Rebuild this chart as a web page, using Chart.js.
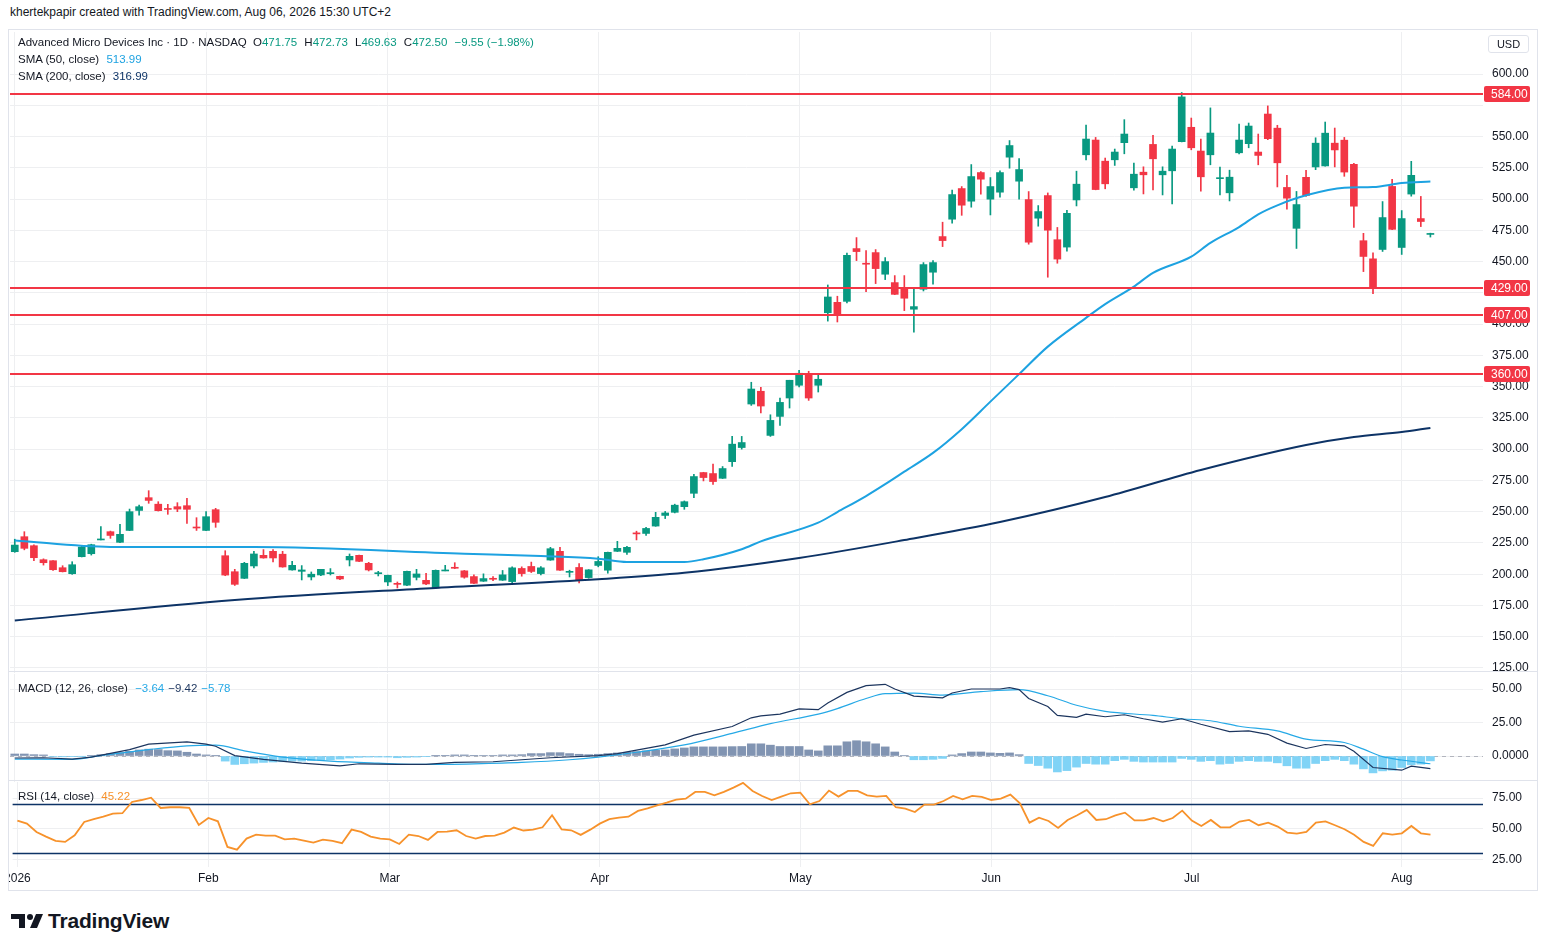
<!DOCTYPE html>
<html>
<head>
<meta charset="utf-8">
<script src="https://cdn.jsdelivr.net/npm/chart.js@4.4.1/dist/chart.umd.min.js"></script>
<style>
  body { margin: 0; background: #fff; font-family: 'Liberation Sans', Arial, sans-serif; color: #131722; }
  #page { position: relative; width: 1547px; height: 951px; overflow: hidden; background: #fff; }
  #credit { position: absolute; left: 10px; top: 5px; font-size: 12px; white-space: nowrap; }
  #frame { position: absolute; left: 8px; top: 29px; width: 1530px; height: 862px; box-sizing: border-box;
           border: 1px solid #e0e3eb; overflow: hidden; }
  #frame canvas { position: absolute; left: -9px; }
  .leg { position: absolute; left: 9px; font-size: 11.5px; line-height: 14px; white-space: nowrap; z-index: 5; }
  .leg b { font-weight: normal; margin-left: 4px; }
  .sep { position: absolute; left: 0; width: 100%; height: 1px; background: #e0e3eb; z-index: 4; }
  #usd { position: absolute; left: 1479px; top: 5px; width: 41px; height: 18px; box-sizing: border-box;
         border: 1px solid #e0e3eb; border-radius: 3px; font-size: 11px; line-height: 16px; text-align: center; z-index: 5; }
  #brand { position: absolute; left: 11px; top: 909px; display: flex; align-items: center; }
  #brand span { font-weight: bold; font-size: 21px; margin-left: 3px; letter-spacing: -0.2px; }
</style>
</head>
<body>
<div id="page">
  <div id="credit">khertekpapir created with TradingView.com, Aug 06, 2026 15:30 UTC+2</div>
  <div id="frame">
    <canvas id="mainChart" width="1537" height="681" style="top:-18px"></canvas>
    <canvas id="macdChart" width="1537" height="148" style="top:624px"></canvas>
    <canvas id="rsiChart" width="1537" height="147" style="top:732px"></canvas>
    <div class="sep" style="top:641px"></div>
    <div class="sep" style="top:750px"></div>
    <div class="leg" style="top:5px">Advanced Micro Devices Inc · 1D · NASDAQ
      <b style="margin-left:3px">O<span class="up" id="vO"></span></b>
      <b>H<span class="up" id="vH"></span></b>
      <b>L<span class="up" id="vL"></span></b>
      <b>C<span class="up" id="vC"></span></b>
      <b class="up" id="vChg"></b></div>
    <div class="leg" style="top:22px">SMA (50, close) <b id="vSma50" style="color:#1da2e1"></b></div>
    <div class="leg" style="top:39px">SMA (200, close) <b id="vSma200" style="color:#0d3366"></b></div>
    <div class="leg" style="top:651px">MACD (12, 26, close) <b id="vHist" style="color:#26a9e6"></b><b id="vMacd" style="color:#1c355e"></b><b id="vSig" style="color:#26a9e6"></b></div>
    <div class="leg" style="top:759px">RSI (14, close) <b id="vRsi" style="color:#f7922b"></b></div>
    <div id="usd">USD</div>
  </div>
  <div id="brand">
    <svg width="34" height="20" viewBox="0 0 34 20"><path d="M0 3h14v14H8V8H0z" fill="#131722"/><circle cx="19" cy="6" r="3" fill="#131722"/><path d="M25 3h7l-6 14h-7z" fill="#131722"/></svg>
    <span>TradingView</span>
  </div>
</div>
<script>
// trading days (day of month) per month, 2026
var janDays = [2, 5, 6, 7, 8, 9, 12, 13, 14, 15, 16, 20, 21, 22, 23, 26, 27, 28, 29, 30];
var febDays = [2, 3, 4, 5, 6, 9, 10, 11, 12, 13, 17, 18, 19, 20, 23, 24, 25, 26, 27];
var marDays = [2, 3, 4, 5, 6, 9, 10, 11, 12, 13, 16, 17, 18, 19, 20, 23, 24, 25, 26, 27, 30, 31];
var aprDays = [1, 2, 6, 7, 8, 9, 10, 13, 14, 15, 16, 17, 20, 21, 22, 23, 24, 27, 28, 29, 30];
var mayDays = [1, 4, 5, 6, 7, 8, 11, 12, 13, 14, 15, 18, 19, 20, 21, 22, 26, 27, 28, 29];
var junDays = [1, 2, 3, 4, 5, 8, 9, 10, 11, 12, 15, 16, 17, 18, 22, 23, 24, 25, 26, 29, 30];
var julDays = [1, 2, 6, 7, 8, 9, 10, 13, 14, 15, 16, 17, 20, 21, 22, 23, 24, 27, 28, 29, 30, 31];
var augDays = [3, 4, 5, 6, 7, 10, 11, 12, 13]; // last five are empty future slots
var monthTicks = ['2026', 'Feb', 'Mar', 'Apr', 'May', 'Jun', 'Jul', 'Aug'];

// daily candles
var openPrices = [218, 230, 222.8, 211.6, 210.8, 205.2, 200.4, 214, 216.4, 227.6,
  234, 225.5, 235, 251, 261.2, 256, 252.4, 254, 254.8, 237.5,
  235, 251.6, 214.8, 202, 196.7, 206.6, 215.1, 218.3, 216, 203.4,
  202.3, 197.8, 199.4, 200.7, 198.3, 211.4, 215.1, 208.7, 200.6, 193.8,
  192.4, 191.2, 197.5, 195.1, 189, 202.9, 205.3, 202.7, 198.1, 194.4,
  196.5, 195.2, 194.1, 204.6, 206.2, 200.5, 211.3, 218.3, 201.8, 205.4,
  197.3, 207, 203.2, 218.3, 217.5, 232.8, 232.6, 238.5, 247, 249.5,
  254, 264.7, 281.3, 280.5, 276.7, 290, 301.3, 336.1, 346.3, 311,
  326.2, 340.9, 351.1, 359.6, 351.1, 409.1, 417.4, 418.2, 460.4, 448.4,
  457.2, 439.9, 433.2, 429.2, 411.9, 427.9, 441.5, 470, 483.9, 508.4,
  498.3, 521.2, 499.9, 505.5, 533.5, 514.3, 499.6, 484.7, 502.8, 467.5,
  461.6, 499.3, 535.4, 547.2, 530.3, 531.4, 545.1, 509, 521.5, 543.7,
  519.4, 522.6, 545.9, 557.4, 538.4, 535.4, 516.5, 505, 537, 544.3,
  537.6, 568, 556.7, 509.3, 476.6, 517.4, 525.7, 526.5, 544.7, 547.1,
  527.8, 466.7, 452.2, 459.7, 510.1, 461.3, 504, 484.4, 471.75];
var highPrices = [228, 234, 223.5, 212.3, 211, 206.8, 210, 222.8, 224, 238,
  234.5, 239.9, 252.1, 255.3, 266.8, 258, 255.9, 257.2, 260.7, 245.2,
  250, 252.7, 218.8, 203.9, 209.5, 218.3, 219.7, 219.7, 218.3, 210.3,
  206.9, 201.8, 204, 204.5, 198.6, 216.2, 215.3, 209.5, 202.3, 199.3,
  193.8, 202.5, 203.9, 200.7, 203.4, 207.1, 209.2, 203, 199.5, 200.3,
  198.1, 203, 205.9, 205.9, 209.7, 206.2, 221.5, 221.5, 203.2, 208.6,
  203.7, 214, 217.7, 226.3, 222.3, 234.4, 237.4, 249.5, 250.2, 256,
  258.6, 279.9, 281.5, 288, 286.1, 310.2, 310.2, 353.5, 349.5, 327.5,
  340.9, 355.1, 363.1, 362.3, 359.1, 431.3, 422.3, 456.8, 469.2, 458.8,
  459.6, 453.2, 438.8, 438.8, 428.7, 449.2, 450.8, 481.5, 507.1, 510,
  527.6, 522, 517.2, 522.5, 546.8, 532.4, 506, 494.8, 504.9, 477.3,
  491, 522.3, 559.2, 549.3, 532.8, 540, 563.5, 528.7, 525.8, 551,
  525.8, 542.4, 585.2, 564.8, 548, 572.9, 525.5, 523.1, 560, 560.8,
  552, 574.5, 559, 519, 506.1, 523, 549, 561.6, 556.8, 549.3,
  528.6, 472.6, 457, 498, 515.8, 490.8, 530.2, 502.1, 472.73];
var lowPrices = [217.5, 219.5, 210.8, 207.3, 203, 201.8, 199.9, 213.8, 215.3, 227.4,
  228.7, 225.3, 234.8, 247.3, 256.7, 250.5, 247.9, 250, 240.7, 235,
  234.8, 237.5, 198.8, 191, 196.5, 205, 212.8, 209.8, 205.6, 203.2,
  195.4, 195.4, 198.9, 199.4, 195.7, 206.6, 210, 202.6, 198.6, 190.9,
  189, 190.9, 195.4, 191.7, 188.7, 202.7, 204.4, 196.8, 192.5, 194.2,
  194.9, 195, 192.7, 198.4, 201.3, 199.5, 211.1, 203, 197.8, 193,
  196.8, 205.9, 200.8, 218.1, 215.9, 227.4, 231, 238.3, 244.5, 249,
  251.9, 261.2, 274.6, 271.9, 276.5, 286.1, 300, 335, 328.9, 310.2,
  319, 332.9, 349.7, 339, 345.7, 402.4, 401.7, 417, 450.8, 426,
  432.4, 435.6, 423.6, 410.8, 393.5, 426.5, 431.9, 462, 480.7, 487,
  493.5, 503.9, 487.3, 501.5, 524.7, 499.9, 463.9, 478.3, 437.5, 448.7,
  458.4, 494.5, 531.4, 507.4, 508.2, 526.9, 536.2, 507.1, 504.1, 507.4,
  503.3, 496.1, 545.7, 539.4, 506.3, 527.4, 503.3, 498.5, 536.2, 541,
  527.4, 547.5, 509.7, 491.9, 460.5, 502.1, 523.5, 526.3, 525.7, 518.2,
  477.4, 442, 424.3, 458.1, 475.6, 455.7, 502.3, 478, 469.63];
var closePrices = [223.3, 220.7, 213.2, 209.2, 203.6, 202, 207.6, 221.7, 223.6, 228,
  231, 231.9, 250, 254, 259, 250.8, 252, 252.1, 251.9, 237.2,
  246, 241.5, 199.3, 191.9, 208.7, 216.2, 213, 213, 205.8, 207.1,
  203.4, 200, 203.9, 201, 196.2, 214.3, 210.3, 203.4, 201, 199.1,
  192.2, 202.3, 200.2, 192.2, 203.1, 203.1, 205, 197.6, 192.7, 196.5,
  196.2, 199.5, 205.1, 200.5, 202.2, 205.1, 220.4, 203.2, 202, 195.4,
  203.5, 210.2, 217.5, 220.7, 221.5, 232.5, 236.6, 245.5, 249, 255.2,
  258, 278.1, 277.3, 274.1, 284.5, 304, 305.3, 348.1, 334.5, 323,
  337.4, 355.1, 360.7, 340.9, 355.9, 421.7, 407.5, 455, 458, 448.2,
  444.4, 450, 423.8, 420.7, 414, 447.6, 449.2, 466.8, 503.6, 495.1,
  518, 515.9, 510, 521.2, 542.8, 523.6, 465.5, 490, 475.1, 452,
  488.6, 511.9, 548, 507.6, 512.2, 537.6, 552, 519.9, 519.4, 532.2,
  522.3, 540, 581.7, 541, 517.8, 552.8, 516.9, 517.5, 547.2, 558.4,
  534.9, 548.3, 529, 500.7, 495.6, 502.9, 544.7, 552.7, 539.3, 521.6,
  494.3, 454.1, 429.2, 485.2, 475.8, 484.4, 519, 482.05, 472.5];

// moving averages, read at sampled bars (bar index, value)
var sma50At = [0, 10, 25, 47, 55, 61, 64, 70, 72, 76, 78, 84, 86, 89, 91, 93, 96, 99, 102, 105, 108, 112, 114, 117, 119, 123, 125, 128, 130, 132, 135, 139, 142, 145, 148];
var sma50Val = [227, 221.8, 221.8, 216.4, 214.5, 212.4, 209.8, 209.8, 212, 220, 226.3, 241.2, 249.7, 262.5, 272, 282, 297, 316, 338, 360, 382, 405, 416, 430, 441, 454, 465, 477.6, 487.8, 495, 503, 509.1, 509.6, 512.8, 513.99];
var sma200At = [0, 23, 44, 61, 70, 82, 93, 103, 114, 124, 135, 140, 145, 148];
var sma200Val = [163, 179.4, 189, 196, 201.2, 213, 227.3, 241.7, 261.7, 283.3, 303.3, 309.7, 313.7, 316.99];

// horizontal levels
var levels = [584, 429, 407, 360];
var priceTicks = [125, 150, 175, 200, 225, 250, 275, 300, 325, 350, 375, 400, 425, 450, 475, 500, 525, 550, 575, 600];
var hiddenPriceTicks = [575, 425];

// MACD
var macdHist = [1.5, 1.5, 1.0, 0.8, -0.3, -0.6, -0.5, -0.2, 0.5, 1.0,
  1.8, 2.5, 3.5, 4.5, 5.1, 4.8, 4.0, 3.8, 2.8, 1.5,
  0.8, 0.2, -3.8, -6.3, -5.8, -5.3, -4.8, -4.5, -4.3, -3.8,
  -3.8, -3.5, -3.0, -2.8, -2.3, -1.5, -1.0, -0.8, -0.8, -0.8,
  -1.3, -1.0, -0.8, -0.5, 0.1, 0.5, 0.8, 0.8, 0.5, 0.3,
  0.3, 0.8, 0.8, 1.0, 1.8, 1.8, 2.5, 2.5, 1.8, 1.3,
  1.0, 1.3, 1.8, 2.3, 2.8, 3.3, 3.8, 4.3, 4.5, 5.3,
  6.0, 6.8, 6.8, 6.8, 6.8, 7.0, 7.1, 9.1, 9.1, 8.1,
  7.1, 7.1, 7.1, 4.5, 3.8, 7.6, 7.6, 10.6, 11.4, 10.6,
  9.1, 6.8, 3.0, 0.3, -2.8, -2.8, -2.5, -1.8, 0.8, 1.8,
  3.0, 3.0, 2.3, 2.0, 2.3, 1.0, -5.6, -7.1, -9.1, -11.9,
  -10.9, -8.3, -5.6, -6.1, -6.1, -3.5, -2.5, -4.0, -4.5, -4.5,
  -4.5, -4.5, -1.8, -2.5, -4.0, -3.5, -6.1, -5.6, -4.0, -3.5,
  -4.0, -4.0, -5.1, -7.3, -9.1, -9.1, -5.6, -3.5, -2.5, -3.5,
  -6.1, -9.6, -12.6, -11.1, -10.6, -8.6, -6.6, -6.1, -3.64];
var macdAt = [0, 3, 6, 8, 12, 14, 18, 20, 21, 23, 26, 30, 34, 36, 40, 43, 46, 50, 53, 56,
  61, 63, 68, 71, 75, 77, 78, 80, 82, 84, 85, 87, 89, 91, 92, 94, 97, 98, 100, 103,
  104, 105, 106, 108, 109, 111, 112, 114, 116, 118, 120, 122, 124, 127, 129, 131, 133, 135, 137, 139,
  140, 142, 145, 146, 148];
var macdVal = [-1.5, -1.3, -2.3, -0.8, 4.8, 8.8, 10.6, 8.8, 7.3, 0.3, -2.5, -5.3, -7.3, -5.8, -6.3, -6.3, -4.8, -4.3, -2.8, -1.3,
  0.3, 1.8, 8.3, 15.6, 22.0, 28.5, 30, 31.3, 35.1, 34.6, 39.5, 47.5, 52.5, 53.5, 50, 44.7, 43.4, 47, 50, 50,
  51, 49.5, 42.9, 36.9, 30.3, 28.8, 31.3, 29.3, 30.8, 27.8, 25.3, 27.8, 23.7, 18.2, 18.7, 16.2, 9.6, 5.6, 8.6, 7.6,
  3.5, -8.6, -10.6, -7.6, -9.42];
var signalAt = [0, 6, 9, 14, 18, 21, 24, 28, 33, 38, 43, 48, 53, 58, 61, 65, 70, 75, 79, 84,
  86, 89, 91, 94, 97, 101, 105, 108, 111, 114, 119, 122, 125, 128, 132, 135, 139, 141, 143, 145, 148];
var signalVal = [-2.3, -2.5, 0.3, 4.8, 7.6, 8.1, 3.8, -0.8, -3.8, -5.3, -6.3, -5.8, -4.8, -2.8, -0.8, 2.8, 8.3, 16.9, 24.2, 31.3,
  35.4, 42.9, 46.5, 47, 45.5, 48, 49.5, 45, 37.9, 33.3, 30.3, 27.8, 26.3, 22.2, 18.7, 12.6, 10.1, 5.1, -0.5, -3, -5.78];
var macdTicks = [0, 25, 50];

// RSI
var rsiVal = [56.7, 54.2, 47.4, 43.6, 40.1, 39.3, 44.7, 55.6, 57.8, 59.9,
  62.4, 62.7, 71.9, 73.5, 75.4, 67, 67.6, 67.6, 67, 53.1,
  58.8, 56.1, 35.2, 33, 42, 45.2, 44.4, 44.4, 41.4, 42,
  40.3, 38.7, 41.2, 40.1, 38.2, 49.3, 47.4, 43.6, 42, 41.4,
  37.6, 45.2, 44.1, 40.9, 47.4, 47.7, 48.8, 44.1, 42, 44.1,
  44.4, 46.9, 51, 48.6, 49.3, 51.2, 61, 49.6, 48.8, 45,
  49.3, 54.2, 57.8, 59.1, 59.9, 64.6, 66.7, 69.2, 71.4, 73.8,
  74.6, 80.1, 80.1, 77.3, 80.1, 83.6, 87.5, 80.9, 76.8, 73.5,
  76.3, 79, 79.5, 70, 72.7, 81.2, 76.3, 80.9, 80.9, 77.3,
  76.3, 76.8, 67.6, 66.5, 63.7, 69.7, 69.7, 72.7, 76.8, 74.1,
  76.8, 76, 73.5, 74.6, 77.9, 70.8, 55, 59.1, 56.4, 50.7,
  57.2, 61, 65.4, 57.2, 57.8, 61, 63.2, 56.9, 56.9, 58.8,
  56.1, 58.8, 64.8, 56.7, 52.3, 57.2, 51.2, 51.2, 55.9, 57.2,
  52.9, 55, 51.8, 46.9, 46.1, 47.4, 55, 56.1, 52.9, 49.6,
  45.2, 39.3, 36, 46.3, 45.2, 46.3, 52.3, 46.3, 45.22];
var rsiBands = [70, 30];
var rsiTicks = [25, 50, 75];

var UP = '#089981', DOWN = '#f23645', GRID = '#eeeff1';
var FONT = "'Liberation Sans', Arial, sans-serif";
Chart.defaults.font.family = FONT;
Chart.defaults.font.size = 12;
Chart.defaults.color = '#131722';

// category labels
var monthDays = [janDays, febDays, marDays, aprDays, mayDays, junDays, julDays, augDays];
var labels = [], monthStart = [];
monthDays.forEach(function (days, m) {
  days.forEach(function (d, k) {
    labels.push('2026-' + String(m + 1).padStart(2, '0') + '-' + String(d).padStart(2, '0'));
    monthStart.push(k === 0 ? monthTicks[m] : '');
  });
});
var nBars = closePrices.length;

function sparse(at, vals) {
  var a = new Array(nBars).fill(null);
  at.forEach(function (j, k) { a[j] = vals[k]; });
  return a;
}

var wicks = lowPrices.map(function (l, i) { return [l, highPrices[i]]; });
var bodies = openPrices.map(function (o, i) {
  var lo = Math.min(o, closePrices[i]), hi = Math.max(o, closePrices[i]);
  if (hi - lo < 0.8) { var m = (hi + lo) / 2; lo = m - 0.4; hi = m + 0.4; }
  return [lo, hi];
});
var candleColors = closePrices.map(function (c, i) { return c >= openPrices[i] ? UP : DOWN; });

function xScale(showTicks) {
  return {
    type: 'category',
    offset: true,
    border: { display: false },
    grid: { offset: false, drawTicks: false, color: function (c) { return monthStart[c.index] ? GRID : 'rgba(0,0,0,0)'; } },
    ticks: showTicks
      ? { autoSkip: false, maxRotation: 0, padding: 4, callback: function (v, i) { return monthStart[i]; } }
      : { display: false },
    afterFit: function (s) { s.height = showTicks ? 22 : 0; }
  };
}
function yScale(min, max, tickList, fmt) {
  return {
    position: 'right', min: min, max: max,
    border: { display: false },
    grid: { color: GRID, drawTicks: false },
    afterBuildTicks: function (s) { s.ticks = tickList.map(function (v) { return { value: v }; }); },
    afterFit: function (s) { s.width = 54; },
    ticks: { padding: 9, callback: fmt }
  };
}
var baseOpts = {
  responsive: false, animation: false, events: [],
  layout: { padding: { left: 10, right: 0, top: 20, bottom: 20 } },
  plugins: { legend: { display: false }, tooltip: { enabled: false } }
};

// red support / resistance lines with axis tags
var levelPlugin = {
  id: 'levels',
  afterDatasetsDraw: function (chart) {
    var ctx = chart.ctx, a = chart.chartArea, y = chart.scales.y;
    ctx.save();
    ctx.strokeStyle = DOWN; ctx.lineWidth = 2;
    levels.forEach(function (v) {
      var py = Math.round(y.getPixelForValue(v));
      ctx.beginPath(); ctx.moveTo(a.left, py); ctx.lineTo(a.right, py); ctx.stroke();
    });
    ctx.restore();
  },
  afterDraw: function (chart) {
    var ctx = chart.ctx, a = chart.chartArea, y = chart.scales.y;
    ctx.save();
    levels.forEach(function (v) {
      var py = Math.round(y.getPixelForValue(v));
      ctx.fillStyle = DOWN;
      ctx.beginPath(); ctx.roundRect(a.right + 1, py - 8, 46, 16, 2); ctx.fill();
      ctx.fillStyle = '#fff'; ctx.font = '12px ' + FONT; ctx.textBaseline = 'middle';
      ctx.fillText(v.toFixed(2), a.right + 8, py + 1);
    });
    ctx.restore();
  }
};

new Chart(document.getElementById('mainChart'), {
  type: 'bar',
  data: {
    labels: labels,
    datasets: [
      { type: 'line', data: sparse(sma50At, sma50Val), borderColor: '#1da2e1', borderWidth: 2, pointRadius: 0,
        spanGaps: true, cubicInterpolationMode: 'monotone', order: 1 },
      { type: 'line', data: sparse(sma200At, sma200Val), borderColor: '#0d3366', borderWidth: 2, pointRadius: 0,
        spanGaps: true, cubicInterpolationMode: 'monotone', order: 2 },
      { data: bodies, backgroundColor: candleColors, barThickness: 7, grouped: false, order: 3 },
      { data: wicks, backgroundColor: candleColors, barThickness: 1, grouped: false, order: 4 }
    ]
  },
  options: Object.assign({}, baseOpts, {
    scales: {
      x: xScale(false),
      y: yScale(121.0, 633.6, priceTicks, function (v) { return hiddenPriceTicks.indexOf(v) >= 0 ? '' : v.toFixed(2); })
    }
  }),
  plugins: [levelPlugin]
});

// dashed zero line of MACD
var zeroPlugin = {
  id: 'zero',
  beforeDatasetsDraw: function (chart) {
    var ctx = chart.ctx, a = chart.chartArea, py = Math.round(chart.scales.y.getPixelForValue(0)) + 0.5;
    ctx.save(); ctx.strokeStyle = '#b2b5be'; ctx.lineWidth = 1; ctx.setLineDash([4, 4]);
    ctx.beginPath(); ctx.moveTo(a.left, py); ctx.lineTo(a.right, py); ctx.stroke(); ctx.restore();
  }
};

new Chart(document.getElementById('macdChart'), {
  type: 'bar',
  data: {
    labels: labels,
    datasets: [
      { type: 'line', data: sparse(macdAt, macdVal), borderColor: '#1c355e', borderWidth: 1.2, pointRadius: 0, spanGaps: true, order: 1 },
      { type: 'line', data: sparse(signalAt, signalVal), borderColor: '#26a9e6', borderWidth: 1.2, pointRadius: 0, spanGaps: true,
        cubicInterpolationMode: 'monotone', order: 2 },
      { data: macdHist, backgroundColor: macdHist.map(function (v) { return v >= 0 ? '#8194b2' : '#80d3f6'; }), barThickness: 8, order: 3 }
    ]
  },
  options: Object.assign({}, baseOpts, {
    scales: {
      x: xScale(false),
      y: yScale(-19.4, 61.2, macdTicks, function (v) { return v === 0 ? '0.0000' : v.toFixed(2); })
    }
  }),
  plugins: [zeroPlugin]
});

// RSI band lines
var bandPlugin = {
  id: 'bands',
  beforeDatasetsDraw: function (chart) {
    var ctx = chart.ctx, a = chart.chartArea, y = chart.scales.y;
    ctx.save(); ctx.strokeStyle = '#0d3366'; ctx.lineWidth = 1.3;
    rsiBands.forEach(function (v) {
      var py = Math.round(y.getPixelForValue(v)) + 0.5;
      ctx.beginPath(); ctx.moveTo(a.left, py); ctx.lineTo(a.right, py); ctx.stroke();
    });
    ctx.restore();
  }
};

new Chart(document.getElementById('rsiChart'), {
  type: 'line',
  data: {
    labels: labels,
    datasets: [
      { data: rsiVal, borderColor: '#f7922b', borderWidth: 1.8, pointRadius: 0 }
    ]
  },
  options: Object.assign({}, baseOpts, {
    scales: {
      x: xScale(true),
      y: yScale(18.8, 88.2, rsiTicks, function (v) { return v.toFixed(2); })
    }
  }),
  plugins: [bandPlugin]
});

// legend values from the data
var last = nBars - 1;
var chg = closePrices[last] - closePrices[last - 1];
function fmt(v) { return (v < 0 ? '\u2212' : '') + Math.abs(v).toFixed(2); }
document.getElementById('vO').textContent = openPrices[last].toFixed(2);
document.getElementById('vH').textContent = highPrices[last].toFixed(2);
document.getElementById('vL').textContent = lowPrices[last].toFixed(2);
document.getElementById('vC').textContent = closePrices[last].toFixed(2);
document.getElementById('vChg').textContent = fmt(chg) + ' (' + fmt(chg / closePrices[last - 1] * 100) + '%)';
document.getElementById('vSma50').textContent = sma50Val[sma50Val.length - 1].toFixed(2);
document.getElementById('vSma200').textContent = sma200Val[sma200Val.length - 1].toFixed(2);
document.getElementById('vHist').textContent = fmt(macdHist[last]);
document.getElementById('vMacd').textContent = fmt(macdVal[macdVal.length - 1]);
document.getElementById('vSig').textContent = fmt(signalVal[signalVal.length - 1]);
document.getElementById('vRsi').textContent = rsiVal[last].toFixed(2);
Array.prototype.forEach.call(document.querySelectorAll('.up'), function (el) { el.style.color = UP; });
</script>
</body>
</html>
